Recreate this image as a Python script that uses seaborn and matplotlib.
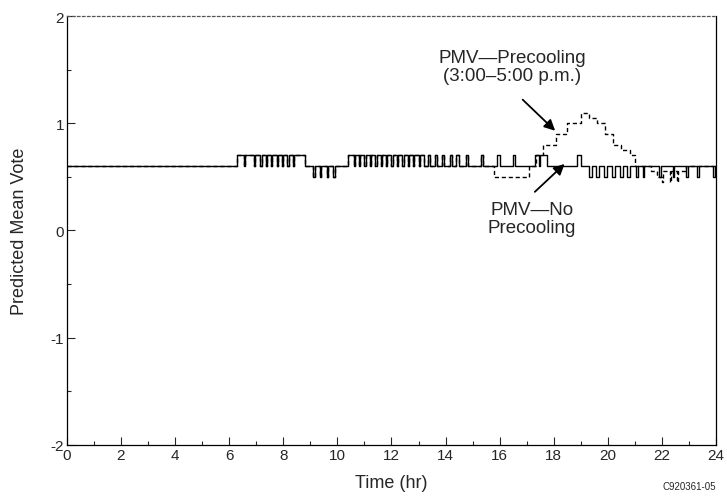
import matplotlib
matplotlib.use("Agg")
import matplotlib.pyplot as plt
from matplotlib.ticker import MultipleLocator
import pandas as pd
import seaborn as sns

# Step breakpoints (hour) and PMV levels shared by both runs up to 15.8 h
common_hours = [0, 6.3, 6.55, 6.6, 6.9, 6.95, 7.15, 7.2, 7.35, 7.4, 7.55, 7.6,
                7.75, 7.8, 7.95, 8.0, 8.15, 8.2, 8.35, 8.4, 8.8,
                9.1, 9.16, 9.35, 9.41, 9.6, 9.66, 9.85, 9.91,
                10.4, 10.6, 10.65, 10.8, 10.85, 11.0, 11.05, 11.2, 11.25, 11.4, 11.45,
                11.6, 11.65, 11.8, 11.85, 12.0, 12.05, 12.2, 12.25, 12.4, 12.45,
                12.6, 12.65, 12.8, 12.85, 13.0, 13.05, 13.2,
                13.35, 13.43, 13.6, 13.68, 13.85, 13.93, 14.15, 14.23, 14.4, 14.48,
                14.75, 14.83, 15.3, 15.4]
common_pmv = [0.6, 0.7, 0.6, 0.7, 0.6, 0.7, 0.6, 0.7, 0.6, 0.7, 0.6, 0.7,
              0.6, 0.7, 0.6, 0.7, 0.6, 0.7, 0.6, 0.7, 0.6,
              0.5, 0.6, 0.5, 0.6, 0.5, 0.6, 0.5, 0.6,
              0.7, 0.6, 0.7, 0.6, 0.7, 0.6, 0.7, 0.6, 0.7, 0.6, 0.7,
              0.6, 0.7, 0.6, 0.7, 0.6, 0.7, 0.6, 0.7, 0.6, 0.7,
              0.6, 0.7, 0.6, 0.7, 0.6, 0.7, 0.6,
              0.7, 0.6, 0.7, 0.6, 0.7, 0.6, 0.7, 0.6, 0.7, 0.6,
              0.7, 0.6, 0.7, 0.6]

# No precooling, after 15.8 h
noprecool_hours = [15.9, 16.0, 16.5, 16.58, 17.3, 17.45, 17.5, 17.75,
                   18.85, 19.0,
                   19.3, 19.42, 19.55, 19.67, 19.85, 19.97, 20.15, 20.27, 20.45, 20.57, 20.7, 20.8,
                   21.05, 21.1, 21.3, 21.35, 21.9, 21.95, 22.4, 22.45, 22.9, 22.95,
                   23.3, 23.35, 23.9, 23.95, 24.0]
noprecool_pmv = [0.7, 0.6, 0.7, 0.6, 0.7, 0.6, 0.7, 0.6,
                 0.7, 0.6,
                 0.5, 0.6, 0.5, 0.6, 0.5, 0.6, 0.5, 0.6, 0.5, 0.6, 0.5, 0.6,
                 0.5, 0.6, 0.5, 0.6, 0.5, 0.6, 0.5, 0.6, 0.5, 0.6,
                 0.5, 0.6, 0.5, 0.6, 0.6]

# Precooling 3:00-5:00 p.m., after 15.8 h
precool_hours = [15.8, 17.1, 17.35, 17.6, 18.1, 18.5, 19.0, 19.3, 19.6, 19.9,
                 20.2, 20.5, 20.8, 21.0, 21.6, 21.8, 22.0, 22.05, 22.3, 22.35,
                 22.55, 22.6, 22.9, 24.0]
precool_pmv = [0.5, 0.6, 0.7, 0.8, 0.9, 1.0, 1.1, 1.05, 1.0, 0.9,
               0.8, 0.75, 0.7, 0.6, 0.55, 0.5, 0.45, 0.55, 0.45, 0.55,
               0.45, 0.55, 0.6, 0.6]

df_none = pd.DataFrame({'hour': common_hours + noprecool_hours,
                        'pmv': common_pmv + noprecool_pmv,
                        'case': 'No Precooling'})
df_pre = pd.DataFrame({'hour': common_hours + precool_hours,
                       'pmv': common_pmv + precool_pmv,
                       'case': 'Precooling'})
df = pd.concat([df_pre, df_none], ignore_index=True)

sns.set_style('ticks')
plt.rcParams['font.family'] = ['Liberation Sans', 'DejaVu Sans']
plt.rcParams['axes.unicode_minus'] = False

fig = plt.figure(figsize=(7.27, 5.02), dpi=100)
ax = fig.add_axes([0.092, 0.112, 0.893, 0.854])

sns.lineplot(data=df, x='hour', y='pmv', style='case',
             dashes={'Precooling': (3, 2), 'No Precooling': ''},
             color='black', linewidth=1.0, drawstyle='steps-post',
             estimator=None, sort=False, legend=False, ax=ax)

ax.set_xlim(0, 24)
ax.set_ylim(-2, 2)
ax.xaxis.set_major_locator(MultipleLocator(2))
ax.xaxis.set_minor_locator(MultipleLocator(1))
ax.yaxis.set_major_locator(MultipleLocator(1))
ax.yaxis.set_minor_locator(MultipleLocator(0.5))
ax.tick_params(which='both', direction='in', width=0.8, labelsize=11, pad=2)
ax.tick_params(which='major', length=6)
ax.tick_params(which='minor', length=3)
for s in ax.spines.values():
    s.set_linewidth(0.9)
    s.set_color('black')
ax.spines['top'].set_linestyle((0, (2, 2)))
ax.spines['top'].set_color('#555555')

ax.set_xlabel('Time (hr)', fontsize=13, labelpad=9)
ax.set_ylabel('Predicted Mean Vote', fontsize=13, labelpad=16)

ax.text(16.47, 1.53, 'PMV\u2014Precooling\n(3:00\u20135:00 p.m.)',
        ha='center', va='center', fontsize=13.5, linespacing=1.05)
ax.text(17.2, 0.11, 'PMV\u2014No\nPrecooling',
        ha='center', va='center', fontsize=13.5, linespacing=1.05)

arrow = dict(arrowstyle='-|>', color='black', lw=1.3, mutation_scale=16,
             shrinkA=0, shrinkB=0)
ax.annotate('', xy=(18.05, 0.93), xytext=(16.85, 1.22), arrowprops=arrow)
ax.annotate('', xy=(18.4, 0.62), xytext=(17.3, 0.36), arrowprops=arrow)

fig.text(0.985, 0.03, 'C920361-05', ha='right', va='center', fontsize=7)

fig.savefig('out.png', dpi=100)
